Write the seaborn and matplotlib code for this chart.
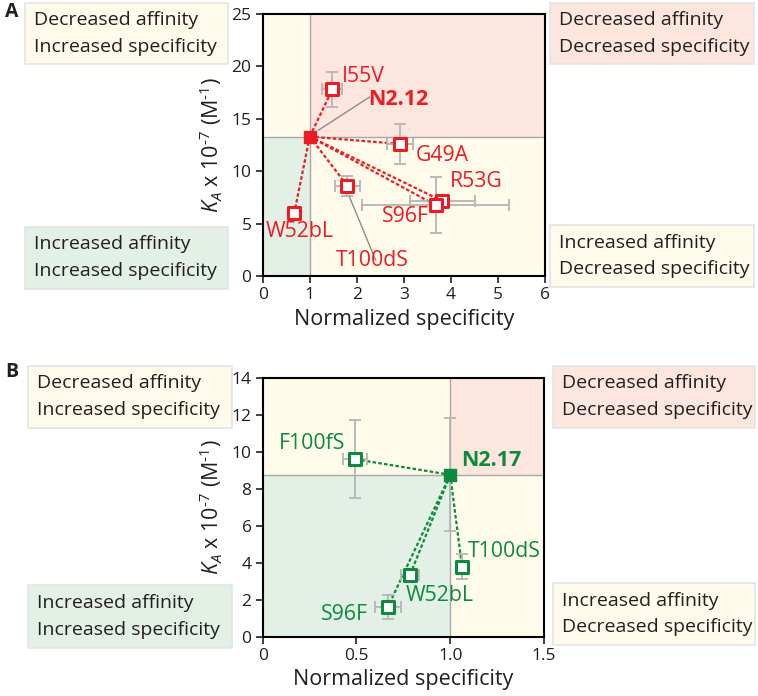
import matplotlib
matplotlib.use("Agg")
import matplotlib.pyplot as plt
import seaborn as sns
import pandas as pd
from matplotlib.patches import Rectangle

# ---------------- data ----------------
# Panel A (N2.12 family)
a_parent = "N2.12"
a_parent_x = 1.0
a_parent_y = 13.3
a_names = ["I55V", "G49A", "T100dS", "R53G", "S96F", "W52bL"]
a_x = [1.48, 2.92, 1.80, 3.82, 3.68, 0.67]
a_y = [17.8, 12.6, 8.6, 7.15, 6.75, 6.0]
a_xerr = [0.21, 0.28, 0.27, 0.69, 1.56, 0.0]
a_yerr = [1.7, 1.9, 0.95, 0.0, 2.65, 0.0]

# Panel B (N2.17 family)
b_parent = "N2.17"
b_parent_x = 1.0
b_parent_y = 8.75
b_parent_xerr = 0.0
b_parent_yerr = 3.05
b_names = ["F100fS", "T100dS", "W52bL", "S96F"]
b_x = [0.49, 1.063, 0.786, 0.667]
b_y = [9.6, 3.78, 3.35, 1.6]
b_xerr = [0.064, 0.0, 0.046, 0.068]
b_yerr = [2.1, 0.67, 0.0, 0.64]

a_xticks = [0, 1, 2, 3, 4, 5, 6]
a_yticks = [0, 5, 10, 15, 20, 25]
b_xticks = [0, 0.5, 1.0, 1.5]
b_xticklabels = ["0", "0.5", "1.0", "1.5"]
b_yticks = [0, 2, 4, 6, 8, 10, 12, 14]

quad_texts = {
    "tl": ["Decreased affinity", "Increased specificity"],
    "tr": ["Decreased affinity", "Decreased specificity"],
    "bl": ["Increased affinity", "Increased specificity"],
    "br": ["Increased affinity", "Decreased specificity"],
}

# ---------------- style ----------------
sns.set_theme(style="white")
FONT = "Open Sans"
plt.rcParams["font.family"] = [FONT, "DejaVu Sans"]
plt.rcParams["mathtext.fontset"] = "custom"
plt.rcParams["mathtext.rm"] = FONT
plt.rcParams["mathtext.it"] = FONT + ":italic"

RED = "#ec1c24"
GREEN = "#0c8a3e"
C_PINK = "#fce6dd"
C_YEL = "#fefbea"
C_GRN = "#e2f0e5"
C_ERR = "#b5b5b5"
C_DIV = "#a8a8a8"
TXT = "#231f20"

W, H = 758, 696
fig = plt.figure(figsize=(W / 100, H / 100), dpi=100)


def ax_at(x0, y0, x1, y1):
    return fig.add_axes([x0 / W, 1 - y1 / H, (x1 - x0) / W, (y1 - y0) / H])


def box(x0, y0, x1, y1, color, lines):
    fig.add_artist(Rectangle((x0 / W, 1 - y1 / H), (x1 - x0) / W, (y1 - y0) / H,
                             transform=fig.transFigure, facecolor=color,
                             edgecolor="#e4e4e4", linewidth=1.2))
    ym = (y0 + y1) / 2
    fig.text((x0 + 9) / W, 1 - (ym - 13.5) / H, lines[0], fontsize=14.0,
             color=TXT, va="center", ha="left")
    fig.text((x0 + 9) / W, 1 - (ym + 13.5) / H, lines[1], fontsize=14.0,
             color=TXT, va="center", ha="left")


def setup_axis(ax, xmax, ymax, px, py, xticks, yticks, xticklabels=None):
    ax.set_xlim(0, xmax)
    ax.set_ylim(0, ymax)
    # quadrants
    ax.add_patch(Rectangle((0, 0), px, py, facecolor=C_GRN, edgecolor="none", zorder=0))
    ax.add_patch(Rectangle((0, py), px, ymax - py, facecolor=C_YEL, edgecolor="none", zorder=0))
    ax.add_patch(Rectangle((px, py), xmax - px, ymax - py, facecolor=C_PINK, edgecolor="none", zorder=0))
    ax.add_patch(Rectangle((px, 0), xmax - px, py, facecolor=C_YEL, edgecolor="none", zorder=0))
    ax.axvline(px, color=C_DIV, lw=1.0, zorder=1)
    ax.axhline(py, color=C_DIV, lw=1.0, zorder=1)
    ax.set_xticks(xticks)
    if xticklabels is not None:
        ax.set_xticklabels(xticklabels)
    ax.set_yticks(yticks)
    ax.tick_params(axis="both", direction="out", length=5, width=1.2,
                   labelsize=12.5, colors=TXT, left=True, bottom=True, pad=3)
    for s in ax.spines.values():
        s.set_color("black")
        s.set_linewidth(1.5)
        s.set_visible(True)
    ax.set_xlabel("Normalized specificity", fontsize=15.5, color=TXT, labelpad=4)
    ax.set_ylabel("$K_A$ x 10$^{\u20107}$ (M$^{\u20101}$)", fontsize=15.5,
                  color=TXT, labelpad=5)


def draw_family(ax, color, px, py, pxe, pye, names, xs, ys, xe, ye, ms):
    df = pd.DataFrame({"name": names, "x": xs, "y": ys, "xe": xe, "ye": ye})
    # dotted links from parent
    for _, r in df.iterrows():
        ax.plot([px, r.x], [py, r.y], color=color, lw=1.6,
                linestyle=(0, (1.6, 1.0)), zorder=2)
    # error bars
    ax.errorbar(df.x, df.y, xerr=df.xe, yerr=df.ye, fmt="none", ecolor=C_ERR,
                elinewidth=1.3, capsize=4, capthick=1.3, zorder=3)
    if pxe or pye:
        ax.errorbar([px], [py], xerr=[pxe], yerr=[pye], fmt="none", ecolor=C_ERR,
                    elinewidth=1.3, capsize=4, capthick=1.3, zorder=3)
    sns.scatterplot(data=df, x="x", y="y", marker="s", s=ms, facecolor="white",
                    edgecolor=color, linewidth=2.2, ax=ax, zorder=5, legend=False)
    sns.scatterplot(x=[px], y=[py], marker="s", s=ms * 1.2, color=color,
                    edgecolor=color, linewidth=1.0, ax=ax, zorder=6, legend=False)


# ---------------- Panel A ----------------
axA = ax_at(262.7, 14, 545, 276)
setup_axis(axA, 6, 25, a_parent_x, a_parent_y, a_xticks, a_yticks)
draw_family(axA, RED, a_parent_x, a_parent_y, 0, 0, a_names, a_x, a_y,
            a_xerr, a_yerr, 72)

lab_off_A = {"I55V": (7, 9, "left"), "G49A": (11, -8, "left"),
             "T100dS": (-8, -54, "left"), "R53G": (5, 14, "left"),
             "S96F": (-5, -8, "right"), "W52bL": (4, -13, "center")}
for n, x, y in zip(a_names, a_x, a_y):
    dx, dy, ha = lab_off_A[n]
    axA.annotate(n, (x, y), xytext=(dx, dy), textcoords="offset points",
                 ha=ha, va="center", fontsize=15.3, color=RED, zorder=7)
axA.annotate(a_parent, (a_parent_x, a_parent_y), xytext=(42, 27),
             textcoords="offset points", ha="left", va="center", fontsize=15.5,
             fontweight="bold", color=RED, zorder=7)
axA.annotate("", (a_parent_x + 0.18, a_parent_y + 0.6), xytext=(37, 24),
             textcoords="offset points",
             arrowprops=dict(arrowstyle="-", color="#8c8c8c", lw=1.0,
                             shrinkA=0, shrinkB=0))
i = a_names.index("T100dS")
axA.annotate("", (a_x[i] + 0.04, a_y[i] - 1.0), xytext=(19, -46),
             textcoords="offset points",
             arrowprops=dict(arrowstyle="-", color="#8c8c8c", lw=1.0,
                             shrinkA=0, shrinkB=0))

# ---------------- Panel B ----------------
axB = ax_at(262.7, 377.7, 544, 636.7)
setup_axis(axB, 1.5, 14, b_parent_x, b_parent_y, b_xticks, b_yticks, b_xticklabels)
draw_family(axB, GREEN, b_parent_x, b_parent_y, b_parent_xerr, b_parent_yerr,
            b_names, b_x, b_y, b_xerr, b_yerr, 72)

lab_off_B = {"F100fS": (-7, 11, "right"), "T100dS": (4, 11, "left"),
             "W52bL": (-3, -15, "left"), "S96F": (-14, -5, "right")}
for n, x, y in zip(b_names, b_x, b_y):
    dx, dy, ha = lab_off_B[n]
    axB.annotate(n, (x, y), xytext=(dx, dy), textcoords="offset points",
                 ha=ha, va="center", fontsize=15.3, color=GREEN, zorder=7)
axB.annotate(b_parent, (b_parent_x, b_parent_y), xytext=(8, 10),
             textcoords="offset points", ha="left", va="center", fontsize=15.5,
             fontweight="bold", color=GREEN, zorder=7)

# ---------------- quadrant boxes ----------------
box(25, 3, 228, 64, C_YEL, quad_texts["tl"])
box(25, 227, 228, 289, C_GRN, quad_texts["bl"])
box(550, 3, 754, 64, C_PINK, quad_texts["tr"])
box(550, 225, 754, 287, C_YEL, quad_texts["br"])

box(28, 366, 232, 428, C_YEL, quad_texts["tl"])
box(28, 585, 232, 648, C_GRN, quad_texts["bl"])
box(553, 366, 755, 428, C_PINK, quad_texts["tr"])
box(553, 583, 755, 645, C_YEL, quad_texts["br"])

fig.text(5 / W, 1 - 12 / H, "A", fontsize=14, fontweight="bold", color=TXT,
         va="center", ha="left")
fig.text(5 / W, 1 - 372 / H, "B", fontsize=14, fontweight="bold", color=TXT,
         va="center", ha="left")

fig.savefig("out.png", dpi=100)
